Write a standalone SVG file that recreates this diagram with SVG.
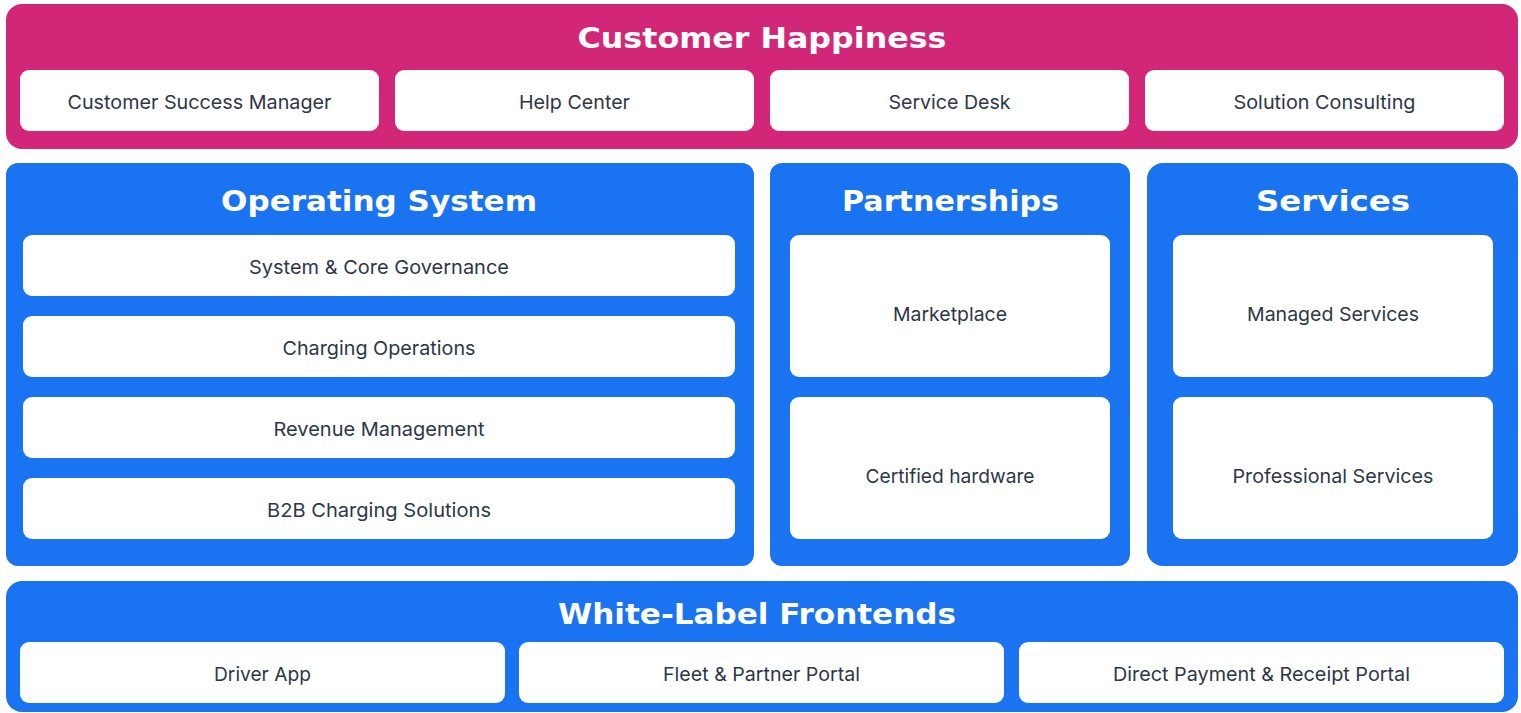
<svg xmlns="http://www.w3.org/2000/svg" width="1521" height="713" viewBox="0 0 1521 713">
<style>
.pink{fill:#D22679}
.blue{fill:#1A73F0}
.card{fill:#FFFFFF}
.title{font-family:"DejaVu Sans","Liberation Sans",sans-serif;font-weight:bold;font-size:28px;fill:#FFFFFF;text-anchor:middle}
.lbl{font-family:Inter,"Liberation Sans",sans-serif;font-size:19px;fill:#2D3748;text-anchor:middle;dominant-baseline:central}
</style>
<rect width="1521" height="713" fill="#FFFFFF"/>
<g id="customer-happiness">
<rect class="pink" x="6" y="4" width="1512" height="145" rx="16"/>
<text class="title" x="762" y="48" textLength="369" lengthAdjust="spacingAndGlyphs">Customer Happiness</text>
</g>
<g id="csm"><rect class="card" x="20" y="70" width="359" height="61" rx="9"/><text class="lbl" x="199.5" y="102" textLength="264" lengthAdjust="spacingAndGlyphs">Customer Success Manager</text></g>
<g id="help-center"><rect class="card" x="395" y="70" width="359" height="61" rx="9"/><text class="lbl" x="574.5" y="102" textLength="111" lengthAdjust="spacingAndGlyphs">Help Center</text></g>
<g id="service-desk"><rect class="card" x="770" y="70" width="359" height="61" rx="9"/><text class="lbl" x="949.5" y="102" textLength="122" lengthAdjust="spacingAndGlyphs">Service Desk</text></g>
<g id="solution-consulting"><rect class="card" x="1145" y="70" width="359" height="61" rx="9"/><text class="lbl" x="1324.5" y="102" textLength="182" lengthAdjust="spacingAndGlyphs">Solution Consulting</text></g>

<g id="operating-system">
<rect class="blue" x="6" y="163" width="748" height="403" rx="12"/>
<text class="title" x="379" y="211" textLength="316" lengthAdjust="spacingAndGlyphs">Operating System</text>
</g>
<g id="core-governance"><rect class="card" x="23" y="235" width="712" height="61" rx="9"/><text class="lbl" x="379" y="267" textLength="260" lengthAdjust="spacingAndGlyphs">System &amp; Core Governance</text></g>
<g id="charging-operations"><rect class="card" x="23" y="316" width="712" height="61" rx="9"/><text class="lbl" x="379" y="348" textLength="193" lengthAdjust="spacingAndGlyphs">Charging Operations</text></g>
<g id="revenue-management"><rect class="card" x="23" y="397" width="712" height="61" rx="9"/><text class="lbl" x="379" y="429" textLength="211" lengthAdjust="spacingAndGlyphs">Revenue Management</text></g>
<g id="b2b-charging"><rect class="card" x="23" y="478" width="712" height="61" rx="9"/><text class="lbl" x="379" y="510" textLength="224" lengthAdjust="spacingAndGlyphs">B2B Charging Solutions</text></g>

<g id="partnerships">
<rect class="blue" x="770" y="163" width="360" height="403" rx="12"/>
<text class="title" x="950.5" y="211" textLength="217" lengthAdjust="spacingAndGlyphs">Partnerships</text>
</g>
<g id="marketplace"><rect class="card" x="790" y="235" width="320" height="142" rx="9"/><text class="lbl" x="950" y="314" textLength="114" lengthAdjust="spacingAndGlyphs">Marketplace</text></g>
<g id="certified-hardware"><rect class="card" x="790" y="397" width="320" height="142" rx="9"/><text class="lbl" x="950" y="476" textLength="169" lengthAdjust="spacingAndGlyphs">Certified hardware</text></g>

<g id="services">
<rect class="blue" x="1147" y="163" width="371" height="403" rx="16"/>
<text class="title" x="1333" y="211" textLength="154" lengthAdjust="spacingAndGlyphs">Services</text>
</g>
<g id="managed-services"><rect class="card" x="1173" y="235" width="320" height="142" rx="9"/><text class="lbl" x="1333" y="314" textLength="172" lengthAdjust="spacingAndGlyphs">Managed Services</text></g>
<g id="professional-services"><rect class="card" x="1173" y="397" width="320" height="142" rx="9"/><text class="lbl" x="1333" y="476" textLength="201" lengthAdjust="spacingAndGlyphs">Professional Services</text></g>

<g id="white-label-frontends">
<rect class="blue" x="6" y="581" width="1512" height="131" rx="16"/>
<text class="title" x="757" y="624" textLength="398" lengthAdjust="spacingAndGlyphs">White-Label Frontends</text>
</g>
<g id="driver-app"><rect class="card" x="20" y="642" width="485" height="61" rx="9"/><text class="lbl" x="262.5" y="674" textLength="97" lengthAdjust="spacingAndGlyphs">Driver App</text></g>
<g id="fleet-portal"><rect class="card" x="519" y="642" width="485" height="61" rx="9"/><text class="lbl" x="761.5" y="674" textLength="197" lengthAdjust="spacingAndGlyphs">Fleet &amp; Partner Portal</text></g>
<g id="payment-portal"><rect class="card" x="1019" y="642" width="485" height="61" rx="9"/><text class="lbl" x="1261.5" y="674" textLength="297" lengthAdjust="spacingAndGlyphs">Direct Payment &amp; Receipt Portal</text></g>
<g id="connectors"/>
</svg>
